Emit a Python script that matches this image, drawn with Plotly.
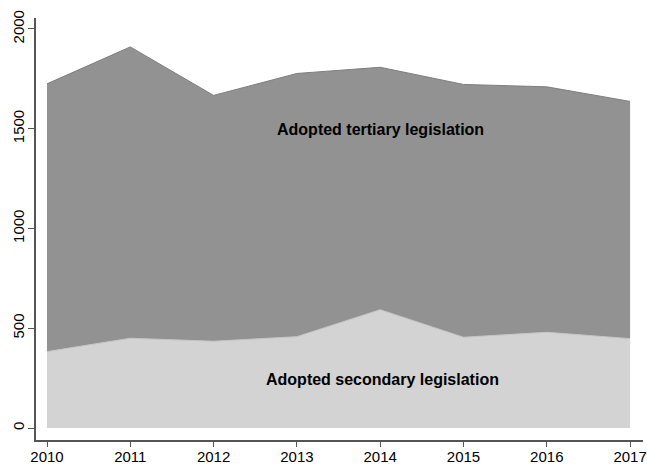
import plotly.graph_objects as go

years = [2010, 2011, 2012, 2013, 2014, 2015, 2016, 2017]
secondary = [383, 450, 435, 458, 593, 455, 480, 448]
total = [1725, 1910, 1667, 1777, 1808, 1722, 1710, 1637]
tertiary = [t - s for t, s in zip(total, secondary)]
y_ticks = [0, 500, 1000, 1500, 2000]

FONT = "Liberation Sans, Arial, sans-serif"

fig = go.Figure()
fig.add_trace(go.Scatter(
    x=years, y=secondary, stackgroup="one", mode="lines",
    line=dict(color="#c4c4c4", width=1), fillcolor="#d3d3d3",
    name="Adopted secondary legislation", showlegend=False))
fig.add_trace(go.Scatter(
    x=years, y=tertiary, stackgroup="one", mode="lines",
    line=dict(color="#7e7e7e", width=1), fillcolor="#929292",
    name="Adopted tertiary legislation", showlegend=False))

fig.add_annotation(x=2014.0, y=1494, text="<b>Adopted tertiary legislation</b>",
                   showarrow=False, font=dict(size=16, color="black", family=FONT))
fig.add_annotation(x=2014.03, y=241, text="<b>Adopted secondary legislation</b>",
                   showarrow=False, font=dict(size=16, color="black", family=FONT))

fig.update_layout(
    width=647, height=465,
    margin=dict(l=36, r=4, t=18, b=25),
    plot_bgcolor="white", paper_bgcolor="white",
    font=dict(family=FONT, size=15, color="black"),
    xaxis=dict(range=[2009.868, 2017.155], tickvals=years, ticks="outside",
               ticklen=5, tickcolor="#555", tickwidth=1.2, showline=True,
               linecolor="#555", linewidth=1.5, showgrid=False, zeroline=False,
               automargin=False, ticklabelstandoff=-3),
    yaxis=dict(range=[-60, 2055], tickvals=y_ticks, ticks="outside",
               ticklen=6, tickcolor="#555", tickwidth=1.2, showline=True,
               linecolor="#555", linewidth=1.5, showgrid=False, zeroline=False,
               tickangle=-90, automargin=False, ticklabelstandoff=-2),
)

fig.write_html("out.html", config={"displayModeBar": False},
               post_script="document.body.style.margin='0';document.body.style.overflow='hidden';")
